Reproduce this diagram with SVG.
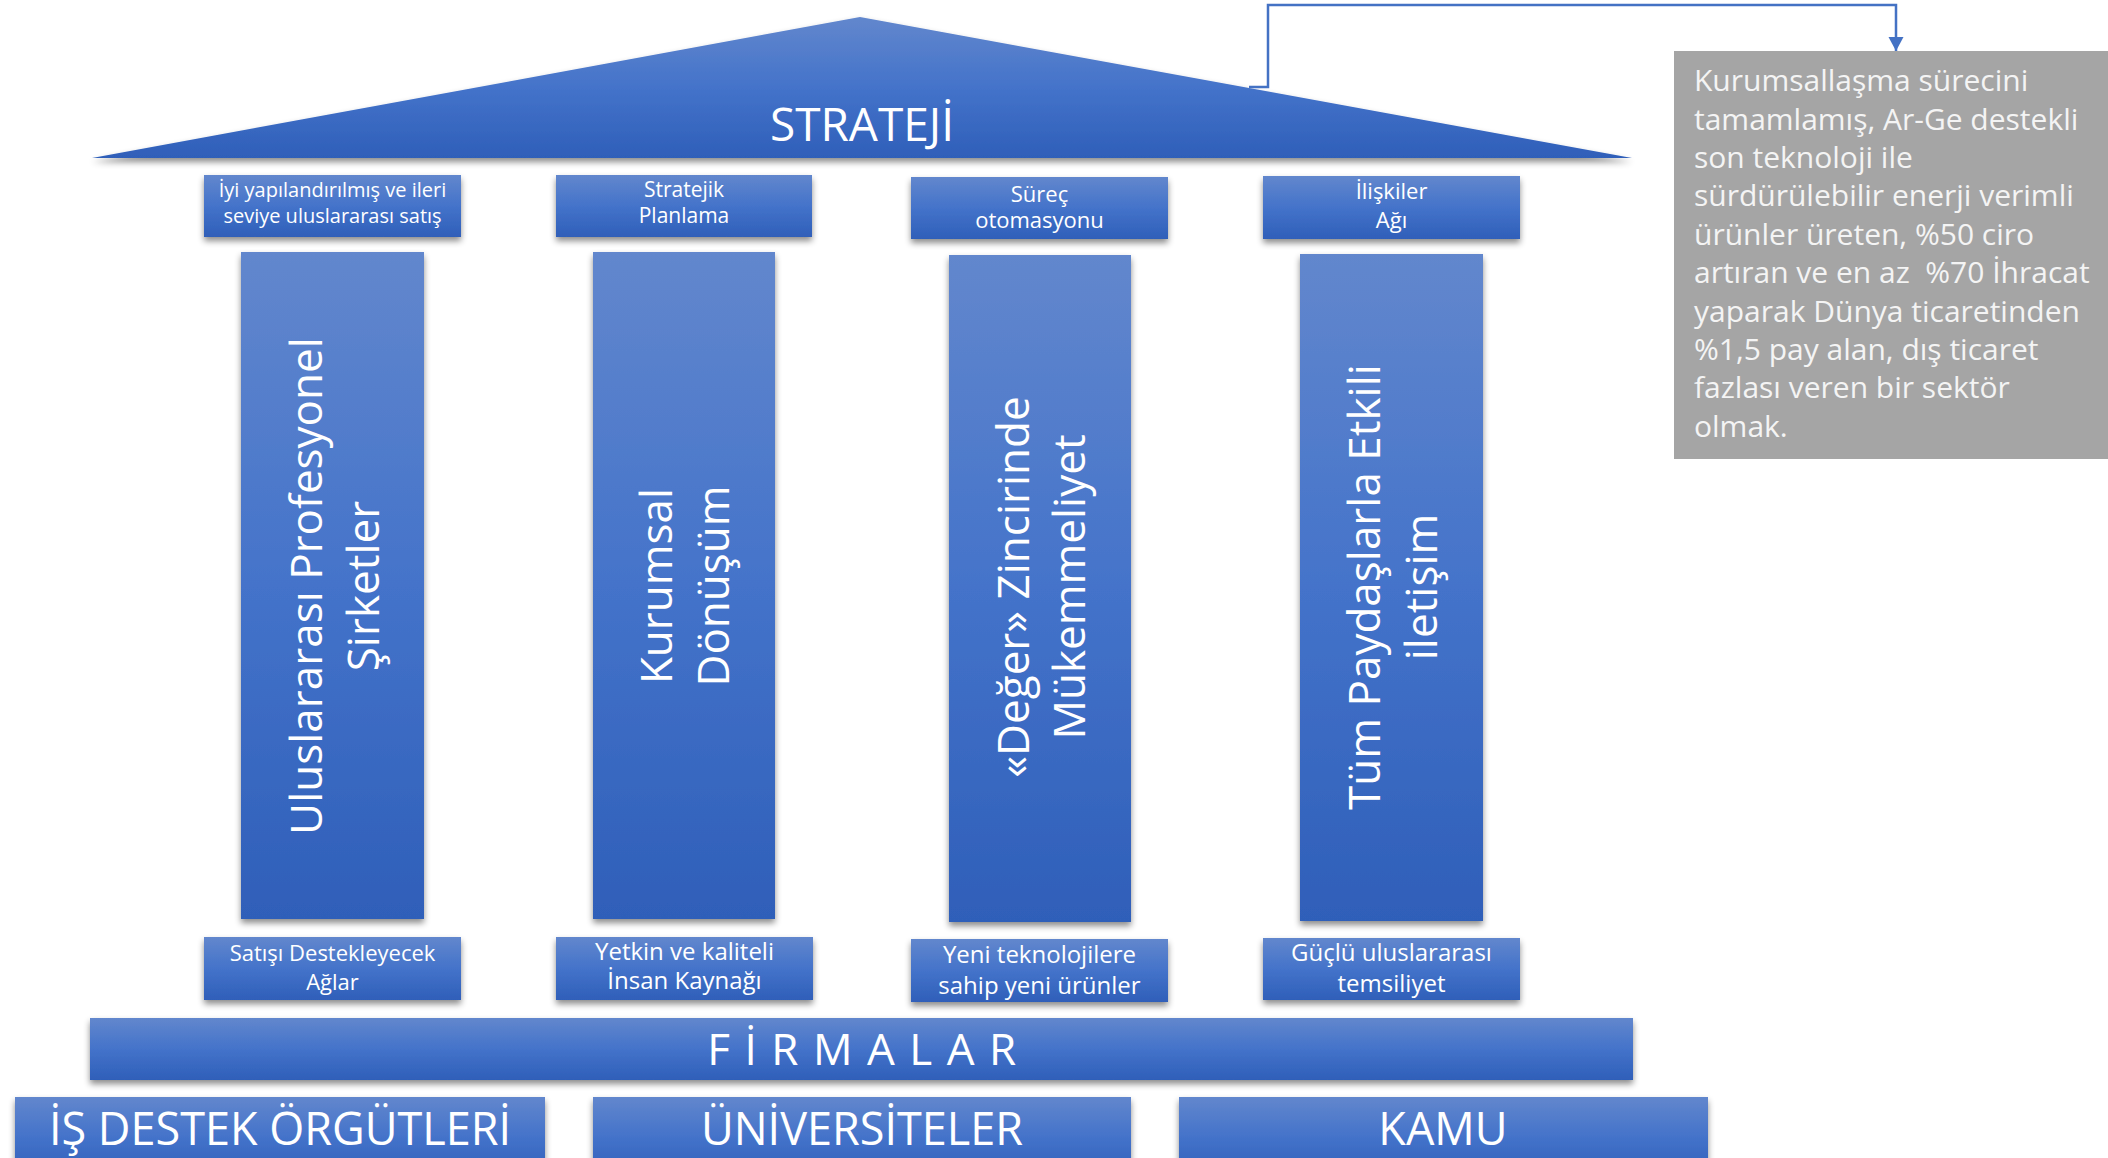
<svg xmlns="http://www.w3.org/2000/svg" width="2108" height="1158" viewBox="0 0 2108 1158">
<style>
.t{font-family:"Open Sans","Noto Sans","DejaVu Sans",sans-serif;fill:#ffffff;text-anchor:middle}
.box{fill:url(#g);filter:url(#sh)}
.gt{font-family:"Open Sans","Noto Sans","DejaVu Sans",sans-serif;fill:#f4f4f4;font-size:30px;white-space:pre}
.conn{fill:none;stroke:#4472C4;stroke-width:2.5}
</style>
<defs>
<linearGradient id="g" x1="0" y1="0" x2="0" y2="1">
<stop offset="0" stop-color="#6287CD"/>
<stop offset="0.5" stop-color="#4473CA"/>
<stop offset="1" stop-color="#2F5FB9"/>
</linearGradient>
<filter id="sh" x="-10%" y="-10%" width="120%" height="135%">
<feDropShadow dx="0" dy="4" stdDeviation="3" flood-color="#000" flood-opacity="0.45"/>
</filter>
<marker id="arr" markerUnits="userSpaceOnUse" markerWidth="16" markerHeight="16" refX="14" refY="7.5" orient="auto">
<path d="M0,0 L14,7.5 L0,15 z" fill="#4472C4"/>
</marker>
</defs>
<rect width="2108" height="1158" fill="#ffffff"/>

<g id="roof">
<polygon class="box" points="92,158 860,17 1632,158"/>
<text class="t" x="862" y="141" font-size="46">STRATEJİ</text>
</g>

<g id="top1"><rect class="box" x="204" y="175" width="257" height="62"/>
<text class="t" font-size="20"><tspan x="332.5" y="197">İyi yapılandırılmış ve ileri</tspan><tspan x="332.5" y="223">seviye uluslararası satış</tspan></text></g>
<g id="top2"><rect class="box" x="556" y="175" width="256" height="62"/>
<text class="t" font-size="21"><tspan x="684" y="197">Stratejik</tspan><tspan x="684" y="223">Planlama</tspan></text></g>
<g id="top3"><rect class="box" x="911" y="177" width="257" height="62"/>
<text class="t" font-size="22"><tspan x="1039.5" y="202">Süreç</tspan><tspan x="1039.5" y="228">otomasyonu</tspan></text></g>
<g id="top4"><rect class="box" x="1263" y="176" width="257" height="63"/>
<text class="t" font-size="22"><tspan x="1391.5" y="199">İlişkiler</tspan><tspan x="1391.5" y="228">Ağı</tspan></text></g>

<g id="pillar1"><rect class="box" x="241" y="252" width="183" height="667"/>
<text class="t" font-size="44" transform="translate(332.5,586) rotate(-90)"><tspan x="0" y="-11">Uluslararası Profesyonel</tspan><tspan x="0" y="46">Şirketler</tspan></text></g>
<g id="pillar2"><rect class="box" x="593" y="252" width="182" height="667"/>
<text class="t" font-size="44" transform="translate(684,586) rotate(-90)"><tspan x="0" y="-12">Kurumsal</tspan><tspan x="0" y="45">Dönüşüm</tspan></text></g>
<g id="pillar3"><rect class="box" x="949" y="255" width="182" height="667"/>
<text class="t" font-size="44" transform="translate(1040,587) rotate(-90)"><tspan x="0" y="-11">«Değer» Zincirinde</tspan><tspan x="0" y="45">Mükemmeliyet</tspan></text></g>
<g id="pillar4"><rect class="box" x="1300" y="254" width="183" height="667"/>
<text class="t" font-size="44" transform="translate(1391.5,587) rotate(-90)"><tspan x="0" y="-12">Tüm Paydaşlarla Etkili</tspan><tspan x="0" y="45">iletişim</tspan></text></g>

<g id="base1"><rect class="box" x="204" y="937" width="257" height="63"/>
<text class="t" font-size="22"><tspan x="332.5" y="961">Satışı Destekleyecek</tspan><tspan x="332.5" y="990">Ağlar</tspan></text></g>
<g id="base2"><rect class="box" x="556" y="937" width="257" height="63"/>
<text class="t" font-size="24"><tspan x="684.5" y="960">Yetkin ve kaliteli</tspan><tspan x="684.5" y="989">İnsan Kaynağı</tspan></text></g>
<g id="base3"><rect class="box" x="911" y="939" width="257" height="63"/>
<text class="t" font-size="24"><tspan x="1039.5" y="963">Yeni teknolojilere</tspan><tspan x="1039.5" y="994">sahip yeni ürünler</tspan></text></g>
<g id="base4"><rect class="box" x="1263" y="938" width="257" height="62"/>
<text class="t" font-size="24"><tspan x="1391.5" y="961">Güçlü uluslararası</tspan><tspan x="1391.5" y="992">temsiliyet</tspan></text></g>

<g id="firmalar"><rect class="box" x="90" y="1018" width="1543" height="62"/>
<text class="t" x="869" y="1065" font-size="44" letter-spacing="14.5">FİRMALAR</text></g>

<g id="isdestek"><rect class="box" x="15" y="1097" width="530" height="80"/>
<text class="t" x="280" y="1145" font-size="45">İŞ DESTEK ÖRGÜTLERİ</text></g>
<g id="universiteler"><rect class="box" x="593" y="1097" width="538" height="80"/>
<text class="t" x="862" y="1145" font-size="45">ÜNİVERSİTELER</text></g>
<g id="kamu"><rect class="box" x="1179" y="1097" width="529" height="80"/>
<text class="t" x="1443" y="1145" font-size="45">KAMU</text></g>

<g id="hedef">
<rect x="1674" y="51" width="434" height="408" fill="#A5A5A5"/>
<text class="gt">
<tspan x="1694" y="91">Kurumsallaşma sürecini</tspan>
<tspan x="1694" y="129.5">tamamlamış, Ar-Ge destekli</tspan>
<tspan x="1694" y="168">son teknoloji ile</tspan>
<tspan x="1694" y="206">sürdürülebilir enerji verimli</tspan>
<tspan x="1694" y="245">ürünler üreten, %50 ciro</tspan>
<tspan x="1694" y="283">artıran ve en az  %70 İhracat</tspan>
<tspan x="1694" y="322">yaparak Dünya ticaretinden</tspan>
<tspan x="1694" y="360">%1,5 pay alan, dış ticaret</tspan>
<tspan x="1694" y="398">fazlası veren bir sektör</tspan>
<tspan x="1694" y="437">olmak.</tspan>
</text>
</g>

<g id="connectors">
<path class="conn" d="M1249,87 H1268 V5 H1896 V51" marker-end="url(#arr)"/>
</g>
</svg>
